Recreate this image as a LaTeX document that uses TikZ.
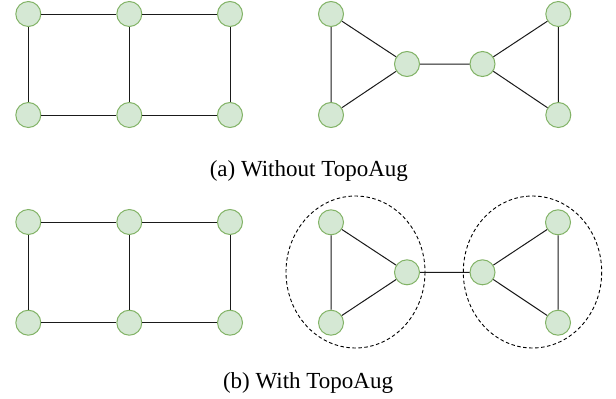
\documentclass[tikz,border=0pt]{standalone}
\usepackage{fontspec}
\setmainfont{Liberation Serif}
\definecolor{nodefill}{HTML}{D5E8D4}
\definecolor{nodeline}{HTML}{82B366}
\definecolor{edgecol}{HTML}{1A1A1A}
\begin{document}
\begin{tikzpicture}[x=1pt,y=-1pt,
  vtx/.style={circle,draw=nodeline,fill=nodefill,line width=1pt,minimum size=25pt,inner sep=0pt},
  edge/.style={draw=edgecol,line width=1pt},
  group/.style={draw=black,line width=0.9pt,dash pattern=on 3.5pt off 2.5pt},
  caption/.style={anchor=base,font=\fontsize{23}{27}\selectfont,inner sep=0pt}]
\useasboundingbox (0,0) rectangle (616,399);

% (a) grid graph
\node[vtx] (a1) at (28.3,14) {};
\node[vtx] (a2) at (129.3,14) {};
\node[vtx] (a3) at (230,14) {};
\node[vtx] (a4) at (28.3,115) {};
\node[vtx] (a5) at (129.3,115) {};
\node[vtx] (a6) at (230,115) {};
\draw[edge] (a1) -- (a2) (a2) -- (a3) (a4) -- (a5) (a5) -- (a6)
            (a1) -- (a4) (a2) -- (a5) (a3) -- (a6);

% (a) two triangles joined by a bridge
\node[vtx] (b1) at (331,14) {};
\node[vtx] (b2) at (407,64) {};
\node[vtx] (b3) at (482.5,64) {};
\node[vtx] (b4) at (558.3,14) {};
\node[vtx] (b5) at (331,115) {};
\node[vtx] (b6) at (558.3,115) {};
\draw[edge] (b1) -- (b2) (b1) -- (b5) (b5) -- (b2) (b2) -- (b3)
            (b3) -- (b4) (b3) -- (b6) (b4) -- (b6);

\node[caption] (capa) at (308.8,176.7) {(a) Without TopoAug};

% (b) grid graph
\node[vtx] (c1) at (28.3,222) {};
\node[vtx] (c2) at (129.3,222) {};
\node[vtx] (c3) at (230,222) {};
\node[vtx] (c4) at (28.3,322.7) {};
\node[vtx] (c5) at (129.3,322.7) {};
\node[vtx] (c6) at (230,322.7) {};
\draw[edge] (c1) -- (c2) (c2) -- (c3) (c4) -- (c5) (c5) -- (c6)
            (c1) -- (c4) (c2) -- (c5) (c3) -- (c6);

% (b) triangles with their dashed groupings
\draw[group] (355.5,272) ellipse [x radius=69.5, y radius=76];
\draw[group] (532.5,272) ellipse [x radius=69.2, y radius=76];
\node[vtx] (d1) at (331,222.3) {};
\node[vtx] (d2) at (407,272.3) {};
\node[vtx] (d3) at (482.5,272.3) {};
\node[vtx] (d4) at (558,222.3) {};
\node[vtx] (d5) at (331,322.7) {};
\node[vtx] (d6) at (558,322.7) {};
\draw[edge] (d1) -- (d2) (d1) -- (d5) (d5) -- (d2) (d2) -- (d3)
            (d3) -- (d4) (d3) -- (d6) (d4) -- (d6);

\node[caption] (capb) at (308,388.3) {(b) With TopoAug};
\end{tikzpicture}
\end{document}
